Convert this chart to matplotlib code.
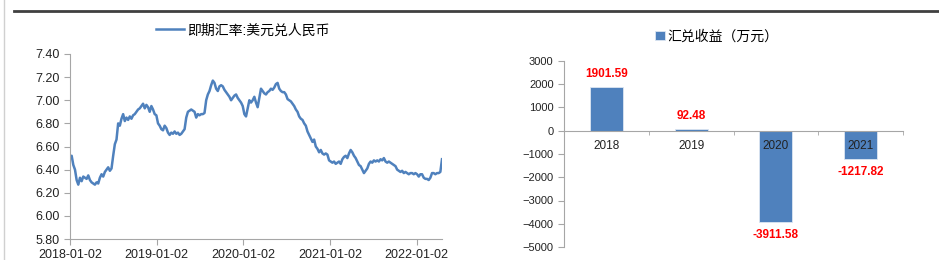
import numpy as np
import pandas as pd
import matplotlib
matplotlib.use("Agg")
import matplotlib.pyplot as plt
import matplotlib.dates as mdates
from matplotlib.lines import Line2D

plt.rcParams['font.family'] = ['Liberation Sans', 'Noto Sans CJK SC', 'DejaVu Sans']

# weekly USD/CNY spot
rate_2018 = [6.50, 6.52, 6.44, 6.40,
             6.31, 6.27, 6.33, 6.30,
             6.34, 6.33, 6.32, 6.35, 6.31,
             6.29, 6.28, 6.27, 6.29,
             6.28, 6.33, 6.36, 6.34, 6.38,
             6.40, 6.42, 6.39, 6.41,
             6.52, 6.62, 6.66, 6.80,
             6.78, 6.84, 6.88, 6.82, 6.85,
             6.83, 6.86, 6.84, 6.87,
             6.88, 6.90, 6.92, 6.93, 6.95,
             6.97, 6.93, 6.96, 6.94,
             6.90, 6.95, 6.92, 6.88]
rate_2019 = [6.87, 6.80, 6.78, 6.75,
             6.74, 6.78, 6.76, 6.72,
             6.70, 6.72, 6.71, 6.73, 6.71,
             6.72, 6.70, 6.71, 6.73,
             6.75, 6.85, 6.90, 6.91, 6.92,
             6.91, 6.90, 6.85, 6.88,
             6.87, 6.88, 6.88, 6.89,
             7.00, 7.05, 7.08, 7.13, 7.17,
             7.15, 7.10, 7.08, 7.12,
             7.13, 7.12, 7.09, 7.07, 7.05,
             7.03, 7.00, 7.02, 7.04,
             7.05, 7.02, 7.00, 6.98]
rate_2020 = [6.95, 6.88, 6.86, 6.93,
             7.00, 6.98, 7.00, 7.03,
             6.98, 6.94, 7.02, 7.10, 7.08,
             7.06, 7.05, 7.07, 7.08,
             7.10, 7.09, 7.11, 7.14, 7.15,
             7.10, 7.08, 7.07, 7.07,
             7.05, 7.01, 7.00, 6.99,
             6.97, 6.95, 6.92, 6.90, 6.86,
             6.84, 6.83, 6.80, 6.78,
             6.73, 6.70, 6.67, 6.64, 6.66,
             6.60, 6.58, 6.55, 6.57,
             6.54, 6.53, 6.54, 6.53]
rate_2021 = [6.48, 6.47, 6.46, 6.47,
             6.45, 6.46, 6.47, 6.45,
             6.49, 6.51, 6.52, 6.50, 6.54,
             6.57, 6.55, 6.52, 6.50,
             6.47, 6.44, 6.43, 6.40, 6.37,
             6.39, 6.41, 6.45, 6.47,
             6.46, 6.48, 6.47, 6.48,
             6.47, 6.49, 6.48, 6.50, 6.47,
             6.46, 6.47, 6.46, 6.45,
             6.44, 6.43, 6.40, 6.39, 6.38,
             6.39, 6.37, 6.38, 6.37,
             6.36, 6.37, 6.37, 6.36]
rate_2022 = [6.37, 6.36, 6.34, 6.36,
             6.36, 6.33, 6.32, 6.32,
             6.31, 6.33, 6.37, 6.37, 6.36,
             6.37, 6.37, 6.38, 6.49]
rates = rate_2018 + rate_2019 + rate_2020 + rate_2021 + rate_2022
dates = pd.date_range('2018-01-02', periods=len(rates), freq='7D')
date_ticks = ['2018-01-02', '2019-01-02', '2020-01-02', '2021-01-02', '2022-01-02']

years = ['2018', '2019', '2020', '2021']
gains = [1901.59, 92.48, -3911.58, -1217.82]

blue = '#4f81bd'
gray = '#a6a6a6'

fig = plt.figure(figsize=(9.39, 2.6), dpi=100)

# frame lines of the report page
fig.add_artist(Line2D([14 / 939, 1], [1 - 11 / 260] * 2, color='#404040', lw=2))
fig.add_artist(Line2D([4 / 939] * 2, [0, 1], color='#d0d0d0', lw=1))

# left: exchange rate line
ax1 = fig.add_axes([70 / 939, 1 - 239 / 260, 372 / 939, 185 / 260])
ax1.plot(dates, rates, color=blue, lw=1.8, label='即期汇率:美元兑人民币')
ax1.set_ylim(5.8, 7.4)
ax1.set_yticks(np.arange(5.8, 7.41, 0.2))
ax1.set_yticklabels([f'{v:.2f}' for v in np.arange(5.8, 7.41, 0.2)])
ax1.set_xlim(dates[0], dates[-1])
ax1.set_xticks(pd.to_datetime(date_ticks))
ax1.xaxis.set_major_formatter(mdates.DateFormatter('%Y-%m-%d'))
for s in ['top', 'right']:
    ax1.spines[s].set_visible(False)
for s in ['left', 'bottom']:
    ax1.spines[s].set_color(gray)
ax1.tick_params(colors=gray, labelcolor='#222222', labelsize=9, length=4, width=0.8)
ax1.legend(loc='lower center', bbox_to_anchor=(0.465, 1.06), frameon=False,
           fontsize=10, handlelength=2.0, handletextpad=0.2, borderaxespad=0)

# right: FX gains bars
ax2 = fig.add_axes([564 / 939, 1 - 247 / 260, 339 / 939, 186 / 260])
x = np.arange(len(years))
ax2.bar(x, gains, width=0.39, color=blue, edgecolor='#dce6f2', lw=0.6,
        label='汇兑收益（万元）')
ax2.set_xlim(-0.5, 3.5)
ax2.set_ylim(-5000, 3000)
ax2.set_yticks(np.arange(-5000, 3001, 1000))
for s in ['top', 'right']:
    ax2.spines[s].set_visible(False)
ax2.spines['left'].set_color(gray)
ax2.spines['bottom'].set_color(gray)
ax2.spines['bottom'].set_position(('data', 0))
ax2.set_xticks(x)
ax2.set_xticklabels(years)
ax2.set_xticks(np.arange(-0.5, 3.6, 1), minor=True)
ax2.tick_params(axis='x', which='major', length=0, pad=7, labelsize=8.5, labelcolor='#222222')
ax2.tick_params(axis='x', which='minor', length=3, color=gray)
ax2.tick_params(axis='y', colors=gray, labelcolor='#222222', labelsize=8, length=4, width=0.8)
for xi, v in zip(x, gains):
    if v >= 0:
        ax2.annotate(f'{v:.2f}', (xi, v), xytext=(0, 5), textcoords='offset points',
                     ha='center', va='bottom', color='#ff0000', fontsize=8.5, fontweight='bold')
    else:
        ax2.annotate(f'{v:.2f}', (xi, v), xytext=(0, -5), textcoords='offset points',
                     ha='center', va='top', color='#ff0000', fontsize=8.5, fontweight='bold')
ax2.legend(loc='lower center', bbox_to_anchor=(0.45, 1.065), frameon=False,
           fontsize=10, handlelength=0.7, handleheight=0.7, handletextpad=0.2, borderaxespad=0)

fig.savefig('out.png', dpi=100)
